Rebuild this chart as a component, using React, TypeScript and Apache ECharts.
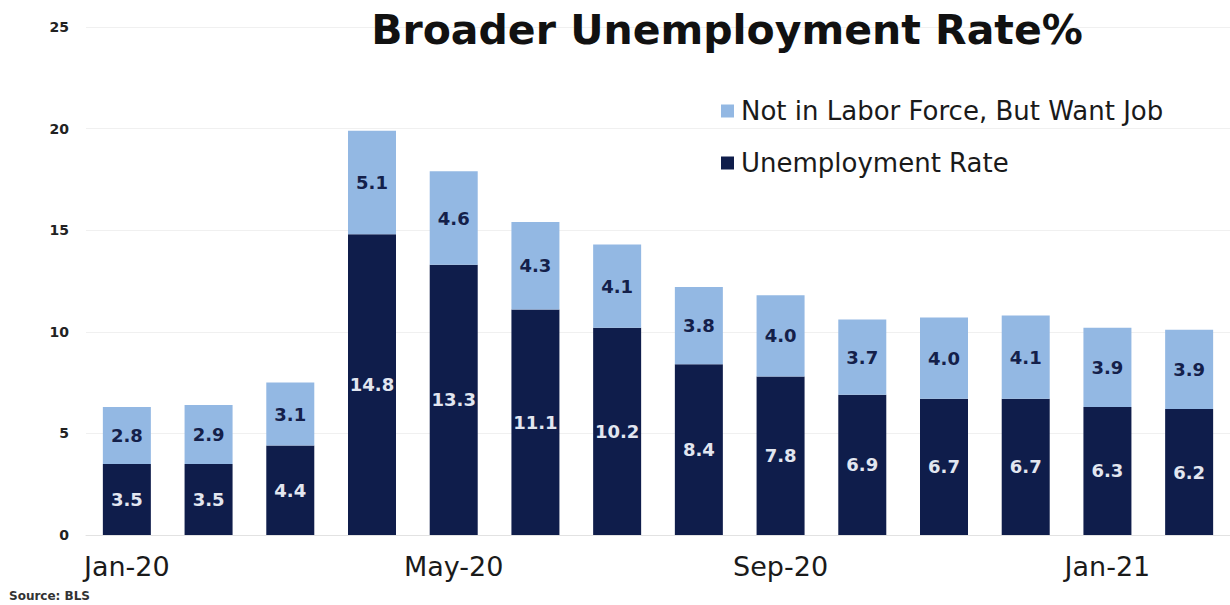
import React, { useEffect, useRef } from "react";
import * as echarts from "echarts";

const categories = ["Jan-20","Feb-20","Mar-20","Apr-20","May-20","Jun-20","Jul-20","Aug-20","Sep-20","Oct-20","Nov-20","Dec-20","Jan-21","Feb-21"];
const unemploymentRate = [3.5, 3.5, 4.4, 14.8, 13.3, 11.1, 10.2, 8.4, 7.8, 6.9, 6.7, 6.7, 6.3, 6.2];
const notInLaborForce = [2.8, 2.9, 3.1, 5.1, 4.6, 4.3, 4.1, 3.8, 4.0, 3.7, 4.0, 4.1, 3.9, 3.9];
const yTicks = [0, 5, 10, 15, 20, 25];

const DARK = "#0f1d4b";
const LIGHT = "#93b8e3";
const FONT = "'DejaVu Sans', sans-serif";

export default function App() {
  const ref = useRef<HTMLDivElement>(null);
  useEffect(() => {
    if (!ref.current) return;
    const chart = echarts.init(ref.current, null, { renderer: "svg" });
    chart.setOption({
      animation: false,
      backgroundColor: "#ffffff",
      textStyle: { fontFamily: FONT },
      title: {
        text: "Broader Unemployment Rate%",
        left: 722,
        top: 4,
        textAlign: "center",
        textStyle: { fontSize: 41, fontWeight: "bold", color: "#111", fontFamily: FONT },
      },
      legend: {
        orient: "vertical",
        left: 716,
        top: 93,
        itemWidth: 13,
        itemHeight: 13,
        itemGap: 26,
        icon: "rect",
        data: ["Not in Labor Force, But Want Job", "Unemployment Rate"],
        textStyle: { fontSize: 26, color: "#1a1a1a", fontFamily: FONT, padding: [0, 0, 0, 2] },
      },
      grid: { left: 86, right: -11, top: 27, bottom: 70, containLabel: false },
      xAxis: {
        type: "category",
        data: categories,
        axisLine: { show: true, lineStyle: { color: "#e2e2e2", width: 1 } },
        axisTick: { show: false },
        axisLabel: {
          interval: 3,
          fontSize: 27,
          color: "#1a1a1a",
          margin: 18,
          fontFamily: FONT,
        },
      },
      yAxis: {
        type: "value",
        min: yTicks[0],
        max: yTicks[yTicks.length - 1],
        interval: 5,
        axisLine: { show: false },
        axisTick: { show: false },
        splitLine: { lineStyle: { color: "#f0f0f0", width: 1 } },
        axisLabel: { fontSize: 14, fontWeight: "bold", color: "#222", margin: 17, fontFamily: FONT },
      },
      series: [
        {
          name: "Unemployment Rate",
          type: "bar",
          stack: "total",
          barWidth: 48,
          data: unemploymentRate,
          itemStyle: { color: DARK },
          label: {
            show: true,
            position: "inside",
            color: "#e2e6f0",
            fontSize: 18,
            fontWeight: "bold",
            fontFamily: FONT,
            formatter: (p: any) => p.value.toFixed(1),
          },
        },
        {
          name: "Not in Labor Force, But Want Job",
          type: "bar",
          stack: "total",
          barWidth: 48,
          data: notInLaborForce,
          itemStyle: { color: LIGHT },
          label: {
            show: true,
            position: "inside",
            color: "#14204a",
            fontSize: 18,
            fontWeight: "bold",
            fontFamily: FONT,
            formatter: (p: any) => p.value.toFixed(1),
          },
        },
      ],
      graphic: [
        {
          type: "text",
          left: 9,
          top: 590,
          style: { text: "Source: BLS", fontSize: 12, fontWeight: "bold", fill: "#333", fontFamily: FONT },
        },
      ],
    });
    return () => chart.dispose();
  }, []);
  return <div ref={ref} style={{ position: "fixed", left: 0, top: 0, width: 1230, height: 605 }} />;
}
